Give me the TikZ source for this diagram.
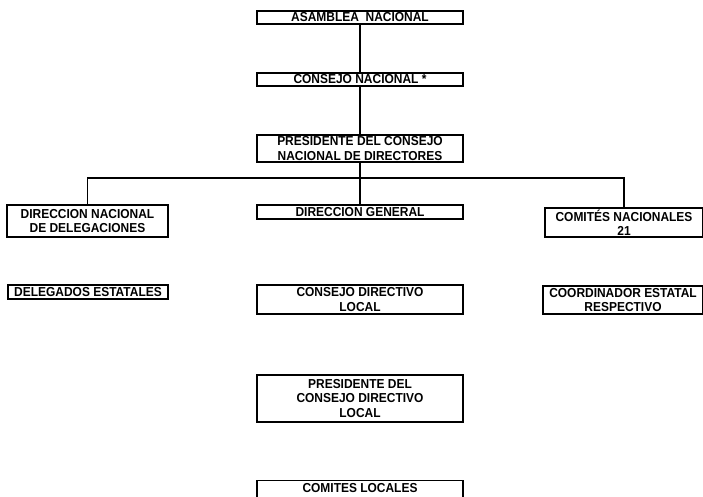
\documentclass[tikz,border=0pt]{standalone}
\usepackage{fontspec}
\setmainfont{Liberation Sans}[FakeStretch=0.92]

\begin{document}
\begin{tikzpicture}[x=1pt,y=-1pt]
	\tikzstyle{caja}=[rectangle,draw=black,line width=1.3pt,inner sep=0pt,align=center,font=\bfseries\fontsize{13}{14.5}\selectfont,minimum width=206pt]
	\tikzstyle{linea}=[draw=black,line width=1.2pt]
	\useasboundingbox (0,0) rectangle (703,496);
	\clip (0,0) rectangle (703,496);
	\node[caja,minimum height=13pt] (asamblea) at (360,17.5) {ASAMBLEA\ \ NACIONAL};
	\node[caja,minimum height=13pt] (consejo) at (360,79.5) {CONSEJO NACIONAL *};
	\node[caja,minimum height=27pt] (presidente) at (360,148.5) {PRESIDENTE DEL CONSEJO\\NACIONAL DE DIRECTORES};
	\node[caja,minimum height=14pt] (dirgeneral) at (360,212) {DIRECCION GENERAL};
	\node[caja,minimum width=161pt,minimum height=32pt] (dirnacional) at (87.5,221) {DIRECCION NACIONAL\\DE DELEGACIONES};
	\node[caja,minimum width=158pt,minimum height=29pt] (comites) at (624,222.5) {COMITÉS NACIONALES\\21};
	\node[caja,minimum width=160pt,minimum height=14pt] (delegados) at (88,292) {DELEGADOS ESTATALES};
	\node[caja,minimum height=29pt] (directivo) at (360,299.5) {CONSEJO DIRECTIVO\\LOCAL};
	\node[caja,minimum width=160pt,minimum height=28pt] (coordinador) at (623,300) {COORDINADOR ESTATAL\\RESPECTIVO};
	\node[caja,minimum height=47pt] (presdirectivo) at (360,398.5) {PRESIDENTE DEL\\CONSEJO DIRECTIVO\\LOCAL};
	\node[caja,minimum height=30pt,anchor=north] (locales) at (360,480) {\rule{0pt}{9pt}COMITES LOCALES\\\ };
	\coordinate (barra) at (360,178);
	\draw[linea] (asamblea) -- (consejo);
	\draw[linea] (consejo) -- (presidente);
	\draw[linea] (presidente) -- (dirgeneral);
	\draw[linea] (dirnacional.north) |- (barra) -| (comites.north);
\end{tikzpicture}
\end{document}
